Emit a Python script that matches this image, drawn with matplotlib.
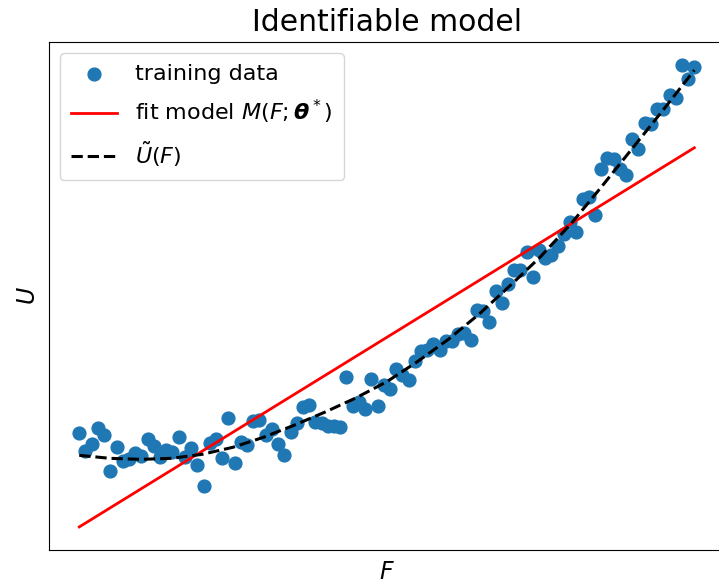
import numpy as np
import matplotlib
matplotlib.use("Agg")
import matplotlib.pyplot as plt

# Training samples: evenly spaced forcing values and the measured response
F_train = np.linspace(0.0, 1.0, 100)
U_train = [
    1.16, 0.98, 1.05, 1.21, 1.14, 0.78, 1.02, 0.88, 0.90, 0.96,
    0.93, 1.10, 1.03, 0.92, 0.99, 0.97, 1.12, 0.92, 1.01, 0.84,
    0.64, 1.06, 1.10, 0.91, 1.31, 0.86, 1.07, 1.04, 1.28, 1.29,
    1.14, 1.20, 1.05, 0.94, 1.17, 1.26, 1.42, 1.44, 1.27, 1.26,
    1.23, 1.23, 1.22, 1.72, 1.43, 1.47, 1.40, 1.70, 1.43, 1.64,
    1.60, 1.80, 1.74, 1.69, 1.88, 1.97, 1.98, 2.04, 1.98, 2.07,
    2.07, 2.14, 2.15, 2.08, 2.38, 2.37, 2.26, 2.57, 2.45, 2.64,
    2.78, 2.78, 2.96, 2.71, 2.98, 2.90, 2.93, 3.02, 3.13, 3.25,
    3.15, 3.48, 3.50, 3.32, 3.78, 3.89, 3.88, 3.78, 3.72, 4.08,
    3.98, 4.24, 4.23, 4.37, 4.37, 4.51, 4.48, 4.81, 4.67, 4.79,
]

# Linear fit model M(F; theta*)
F_fit = [0.0, 1.0]
U_fit = [0.23, 3.99]

# Underlying response curve U~(F)
F_true = np.linspace(0.0, 1.0, 21)
U_true = [
    0.94, 0.91, 0.90, 0.91, 0.95, 1.02, 1.12, 1.24, 1.37, 1.51,
    1.67, 1.87, 2.09, 2.34, 2.62, 2.91, 3.24, 3.61, 3.99, 4.37, 4.76,
]

fig = plt.figure(figsize=(7.19, 5.83), dpi=100)
ax = fig.add_axes([0.0675, 0.0566, 0.941, 0.8714])

ax.scatter(F_train, U_train, s=85, color="#1f77b4", label="training data", zorder=2)
ax.plot(F_fit, U_fit, color="red", lw=2.0, label=r"fit model $M(F;\boldsymbol{\theta}^*)$", zorder=3)
ax.plot(F_true, U_true, color="black", ls="--", lw=2.2, label=r"$\tilde{U}(F)$", zorder=4)

ax.set_xticks([])
ax.set_yticks([])
ax.set_xlabel(r"$F$", fontsize=17, labelpad=7)
ax.set_ylabel(r"$U$", fontsize=17, labelpad=6)
ax.set_title("Identifiable model", fontsize=21.5, pad=8)

ax.legend(loc="upper left", fontsize=16, labelspacing=0.62, handlelength=2.1,
          borderpad=0.5)

fig.savefig("out.png", dpi=100)
